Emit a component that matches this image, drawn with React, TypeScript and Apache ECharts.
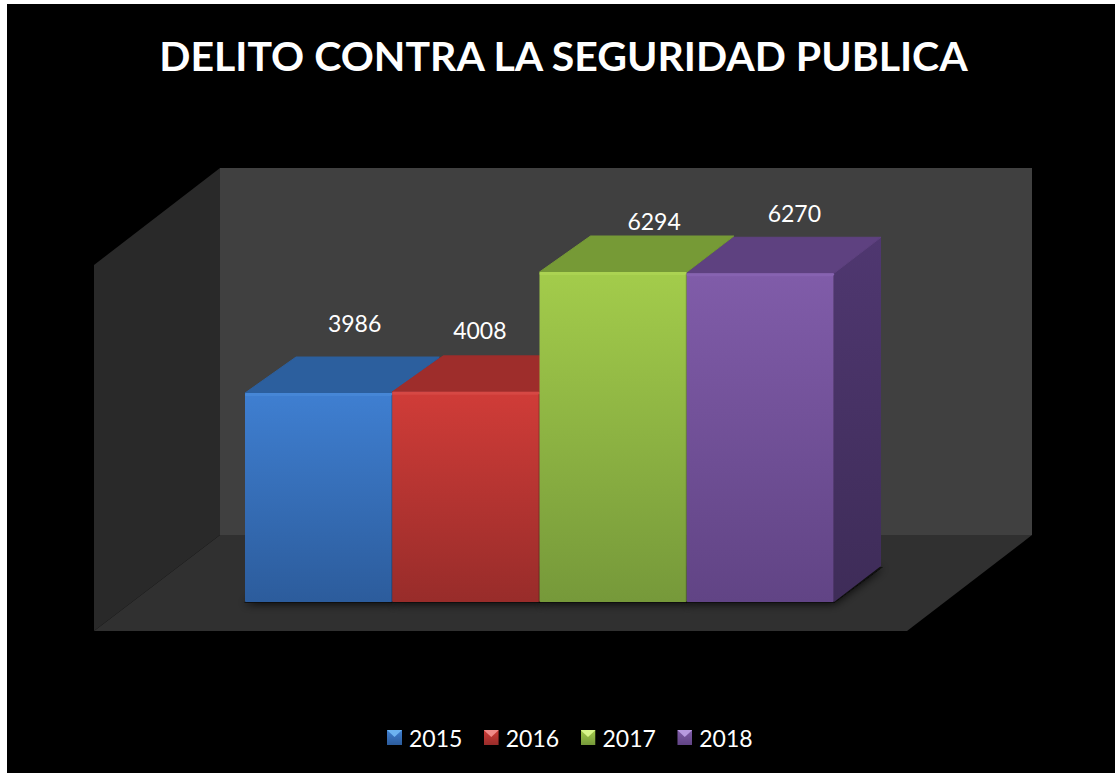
import React, { useEffect, useRef } from "react";
import * as echarts from "echarts";

const title = "DELITO CONTRA LA SEGURIDAD PUBLICA";
const years = ["2015", "2016", "2017", "2018"];
const values = [3986, 4008, 6294, 6270];

// [front top, front bottom, highlight, top face, side top, side bottom, legend light]
const palette = [
  ["#3f7fd1", "#2c5c9c", "#4a8ad8", "#2c5f9e", "#2a568f", "#234876", "#6db3f0"],
  ["#d03c38", "#982c2a", "#d84c48", "#9e2d2b", "#8a2826", "#6f201e", "#f08a88"],
  ["#a3cc4b", "#76993a", "#add654", "#769a36", "#678631", "#526b27", "#d8f58a"],
  ["#805ca9", "#614485", "#8a66b4", "#5e4180", "#4f3770", "#3e2c58", "#b79ae0"],
];
const labelOffsets = [[36, -70], [14, -62], [41, -51], [34, -60]];
const FONT = "Lato, 'Open Sans', sans-serif";
const DEPTH_Y = 36;

function legendIcon(c: string[]) {
  const svg =
    `<svg xmlns="http://www.w3.org/2000/svg" width="15" height="15">` +
    `<defs><linearGradient id="g" x1="0" y1="0" x2="0" y2="1"><stop offset="0" stop-color="${c[0]}"/><stop offset="1" stop-color="${c[1]}"/></linearGradient></defs>` +
    `<rect width="15" height="15" fill="url(#g)"/>` +
    `<polygon points="0,0 15,0 7.5,7" fill="${c[6]}"/>` +
    `</svg>`;
  return "image://data:image/svg+xml;charset=utf-8," + encodeURIComponent(svg);
}

function grad(a: string, b: string) {
  return new echarts.graphic.LinearGradient(0, 0, 0, 1, [
    { offset: 0, color: a },
    { offset: 1, color: b },
  ]);
}

function barGeom(api: any) {
  const x = api.value(0);
  const v = api.value(1);
  const [cx, top] = api.coord([x, v]);
  const [, base] = api.coord([x, 0]);
  const w = api.size([1, 0])[0];
  return { x, l: cx - w / 2, r: cx + w / 2, cx, top, base };
}

const renderShadow = (_: any, api: any) => {
  const g = barGeom(api);
  const dxL = g.x === 3 ? 47 : 51;
  return {
    type: "polygon",
    silent: true,
    shape: {
      points: [
        [g.l - 1, g.base + 1],
        [g.r, g.base + 1],
        [g.r + 49, g.base - DEPTH_Y + 1],
        [g.l + dxL, g.base - DEPTH_Y],
      ],
    },
    style: {
      fill: "rgba(10,10,10,0.9)",
      shadowBlur: 10,
      shadowColor: "rgba(0,0,0,0.9)",
      shadowOffsetX: 0,
      shadowOffsetY: 1,
    },
  };
};

const renderBar = (_: any, api: any) => {
  const g = barGeom(api);
  const c = palette[g.x];
  const dxL = g.x === 3 ? 47 : 51;
  const dxR = 47;
  const off = labelOffsets[g.x];
  return {
    type: "group",
    children: [
      {
        type: "polygon",
        shape: {
          points: [
            [g.r, g.top],
            [g.r + dxR, g.top - DEPTH_Y],
            [g.r + dxR, g.base - DEPTH_Y],
            [g.r, g.base],
          ],
        },
        style: { fill: grad(c[4], c[5]) },
      },
      {
        type: "polygon",
        shape: {
          points: [
            [g.l, g.top],
            [g.l + dxL, g.top - DEPTH_Y],
            [g.r + dxR, g.top - DEPTH_Y],
            [g.r, g.top],
          ],
        },
        style: { fill: c[3], stroke: c[3], lineWidth: 1, lineJoin: "round" },
      },
      {
        type: "rect",
        shape: { x: g.l, y: g.top, width: g.r - g.l, height: g.base - g.top, r: 1 },
        style: { fill: grad(c[0], c[1]) },
      },
      {
        type: "rect",
        shape: { x: g.l, y: g.top, width: g.r - g.l, height: 3, r: 1 },
        style: { fill: c[2], opacity: 0.75 },
      },
      {
        type: "line",
        shape: { x1: g.r - 0.5, y1: g.top + 2, x2: g.r - 0.5, y2: g.base },
        style: { stroke: "rgba(0,0,0,0.22)", lineWidth: 1 },
      },
      {
        type: "text",
        style: {
          x: g.cx + off[0],
          y: g.top + off[1],
          text: String(api.value(1)),
          fill: "#ffffff",
          font: `23px ${FONT}`,
          align: "center",
          verticalAlign: "middle",
        },
      },
    ],
  };
};

export default function App() {
  const ref = useRef<HTMLDivElement>(null);
  useEffect(() => {
    const chart = echarts.init(ref.current!, null, { renderer: "svg" });
    chart.setOption({
      animation: false,
      backgroundColor: "transparent",
      title: {
        text: title,
        left: 558.5,
        textAlign: "center",
        top: 30,
        textStyle: { color: "#ffffff", fontFamily: FONT, fontWeight: "bold", fontSize: 41 },
      },
      legend: {
        left: 387,
        top: 726,
        itemWidth: 15,
        itemHeight: 15,
        itemGap: 21.4,
        selectedMode: false,
        padding: 0,
        textStyle: { color: "#ffffff", fontFamily: FONT, fontSize: 23, padding: [0, 0, 0, 2] },
        data: years.map((y, i) => ({ name: y, icon: legendIcon(palette[i]) })),
      },
      grid: { left: 245, width: 589, top: 235, height: 367 },
      xAxis: { type: "category", data: years, show: false },
      yAxis: { type: "value", min: 0, max: 7000, show: false },
      graphic: [
        {
          type: "rect",
          silent: true,
          shape: { x: 220, y: 168, width: 812, height: 367 },
          style: { fill: "#404040" },
        },
        {
          type: "polygon",
          silent: true,
          shape: { points: [[94, 265], [220, 168], [220, 535], [94, 631]] },
          style: { fill: "#292929" },
        },
        {
          type: "polygon",
          silent: true,
          shape: { points: [[94, 631], [907, 631], [1032, 535], [220, 535]] },
          style: { fill: "#303030" },
        },
      ],
      series: [
        {
          type: "custom",
          name: "sombra",
          z: 1,
          silent: true,
          renderItem: renderShadow,
          data: values.map((v, i) => [i, v]),
        },
        ...years.map((y, i) => ({
          type: "custom",
          name: y,
          z: 2 + i,
          color: palette[i][0],
          silent: true,
          renderItem: renderBar,
          data: [[i, values[i]]],
        })),
      ],
    });
    return () => chart.dispose();
  }, []);
  return (
    <div
      style={{
        position: "fixed",
        left: 7,
        top: 4,
        right: 0,
        bottom: 0,
        background: "#000000",
        overflow: "hidden",
      }}
    >
      <div ref={ref} style={{ position: "absolute", left: -7, top: -4, width: 1115, height: 773 }} />
    </div>
  );
}
